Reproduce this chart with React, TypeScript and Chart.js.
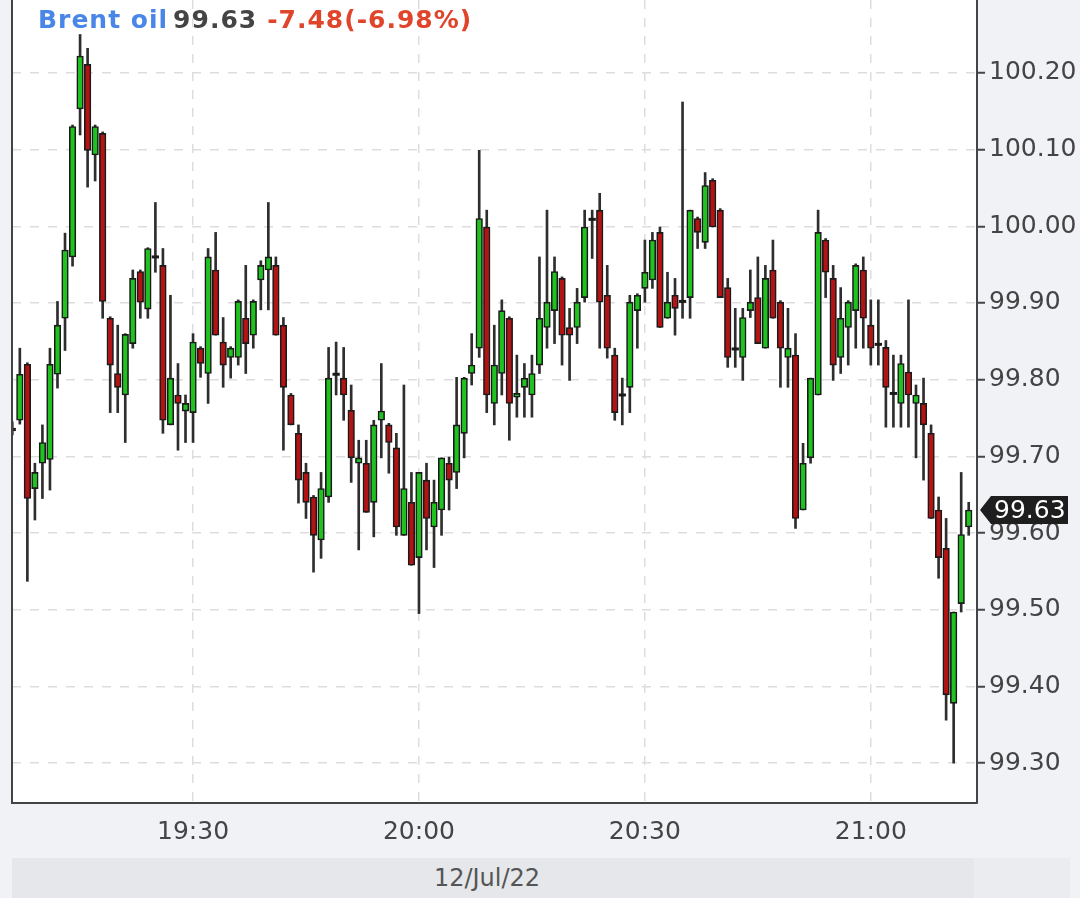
import React, { useEffect, useRef } from 'react';
import { Chart, registerables } from 'chart.js';

Chart.register(...registerables);

// ---- texts ----
const instrument = 'Brent oil';
const lastPriceText = '99.63';
const changeText = '-7.48(-6.98%)';
const dateLabel = '12/Jul/22';

// ---- categories / ticks ----
const firstCandleTime = '19:06'; // one candle per minute
const xTickLabels = ['19:30', '20:00', '20:30', '21:00'];
const yTickValues = [99.3, 99.4, 99.5, 99.6, 99.7, 99.8, 99.9, 100.0, 100.1, 100.2];

// ---- series (1-minute OHLC) ----
const opens = [
  99.737, 99.747, 99.820, 99.658, 99.691, 99.696, 99.807, 99.880, 99.960, 100.153,
  100.211, 100.093, 100.121, 99.880, 99.808, 99.780, 99.847, 99.941, 99.892, 99.960,
  99.949, 99.741, 99.780, 99.759, 99.757, 99.841, 99.808, 99.943, 99.849, 99.829,
  99.829, 99.880, 99.858, 99.930, 99.943, 99.949, 99.871, 99.780, 99.730, 99.679,
  99.647, 99.591, 99.647, 99.807, 99.802, 99.760, 99.691, 99.691, 99.640, 99.747,
  99.741, 99.711, 99.597, 99.640, 99.568, 99.669, 99.608, 99.630, 99.691, 99.679,
  99.730, 99.808, 99.841, 99.999, 99.769, 99.808, 99.880, 99.777, 99.790, 99.780,
  99.819, 99.868, 99.890, 99.932, 99.868, 99.868, 99.907, 100.009, 100.021, 99.910,
  99.832, 99.780, 99.790, 99.890, 99.919, 99.930, 99.992, 99.880, 99.910, 99.902,
  99.907, 100.010, 99.979, 100.060, 100.021, 99.920, 99.840, 99.829, 99.890, 99.907,
  99.841, 99.943, 99.901, 99.829, 99.832, 99.630, 99.698, 99.780, 99.982, 99.932,
  99.829, 99.868, 99.890, 99.943, 99.871, 99.846, 99.842, 99.782, 99.769, 99.810,
  99.769, 99.769, 99.730, 99.630, 99.580, 99.378, 99.508, 99.608,
];
const highs = [
  99.745, 99.841, 99.822, 99.691, 99.741, 99.841, 99.902, 99.991, 100.132, 100.250,
  100.232, 100.132, 100.123, 99.882, 99.871, 99.860, 99.943, 99.943, 99.972, 100.031,
  99.971, 99.910, 99.821, 99.780, 99.860, 99.843, 99.971, 99.992, 99.881, 99.843,
  99.904, 99.949, 99.904, 99.955, 100.031, 99.960, 99.881, 99.782, 99.741, 99.691,
  99.649, 99.679, 99.842, 99.849, 99.842, 99.793, 99.721, 99.721, 99.747, 99.821,
  99.743, 99.730, 99.793, 99.679, 99.679, 99.691, 99.669, 99.698, 99.699, 99.803,
  99.803, 99.860, 100.099, 100.021, 99.871, 99.904, 99.882, 99.832, 99.821, 99.832,
  99.960, 100.021, 99.960, 99.934, 99.893, 99.919, 100.021, 100.021, 100.043, 99.949,
  99.841, 99.802, 99.910, 99.912, 99.982, 99.992, 99.999, 99.940, 99.932, 100.162,
  100.021, 100.012, 100.070, 100.062, 100.023, 99.932, 99.893, 99.893, 99.943, 99.960,
  99.949, 99.982, 99.903, 99.893, 99.860, 99.717, 99.802, 100.021, 99.984, 99.949,
  99.920, 99.903, 99.951, 99.960, 99.904, 99.904, 99.851, 99.832, 99.832, 99.904,
  99.793, 99.802, 99.741, 99.647, 99.619, 99.497, 99.679, 99.640,
];
const lows = [
  99.728, 99.742, 99.537, 99.617, 99.645, 99.656, 99.789, 99.838, 99.948, 100.119,
  100.051, 100.059, 99.880, 99.757, 99.757, 99.718, 99.841, 99.880, 99.880, 99.940,
  99.730, 99.741, 99.708, 99.718, 99.718, 99.803, 99.769, 99.858, 99.790, 99.802,
  99.819, 99.808, 99.841, 99.891, 99.891, 99.858, 99.708, 99.741, 99.639, 99.619,
  99.549, 99.567, 99.640, 99.780, 99.747, 99.666, 99.578, 99.627, 99.595, 99.698,
  99.678, 99.597, 99.597, 99.558, 99.495, 99.578, 99.555, 99.597, 99.630, 99.658,
  99.698, 99.793, 99.829, 99.757, 99.741, 99.780, 99.721, 99.751, 99.751, 99.751,
  99.808, 99.841, 99.847, 99.819, 99.799, 99.847, 99.901, 99.958, 99.841, 99.828,
  99.747, 99.741, 99.757, 99.841, 99.901, 99.919, 99.868, 99.880, 99.858, 99.880,
  99.880, 99.971, 99.971, 99.999, 99.907, 99.816, 99.816, 99.799, 99.881, 99.847,
  99.841, 99.880, 99.790, 99.790, 99.606, 99.630, 99.691, 99.780, 99.907, 99.799,
  99.808, 99.819, 99.841, 99.841, 99.819, 99.819, 99.738, 99.738, 99.738, 99.738,
  99.698, 99.669, 99.619, 99.541, 99.356, 99.300, 99.497, 99.597,
];
const closes = [
  99.733, 99.807, 99.645, 99.679, 99.718, 99.820, 99.871, 99.969, 100.130, 100.222,
  100.099, 100.130, 99.902, 99.819, 99.790, 99.859, 99.932, 99.901, 99.971, 99.958,
  99.747, 99.802, 99.769, 99.769, 99.849, 99.821, 99.960, 99.858, 99.819, 99.841,
  99.902, 99.847, 99.902, 99.949, 99.960, 99.858, 99.790, 99.741, 99.669, 99.640,
  99.597, 99.658, 99.802, 99.807, 99.780, 99.698, 99.698, 99.627, 99.741, 99.759,
  99.718, 99.608, 99.658, 99.558, 99.679, 99.619, 99.640, 99.698, 99.669, 99.741,
  99.802, 99.819, 100.010, 99.780, 99.819, 99.890, 99.769, 99.782, 99.802, 99.808,
  99.880, 99.901, 99.941, 99.858, 99.858, 99.901, 99.999, 100.009, 99.901, 99.841,
  99.757, 99.780, 99.901, 99.910, 99.940, 99.982, 99.868, 99.901, 99.893, 99.902,
  100.021, 99.992, 100.053, 99.999, 99.907, 99.829, 99.840, 99.881, 99.901, 99.847,
  99.932, 99.880, 99.841, 99.841, 99.619, 99.691, 99.802, 99.992, 99.940, 99.819,
  99.880, 99.901, 99.949, 99.880, 99.841, 99.846, 99.790, 99.782, 99.821, 99.780,
  99.780, 99.741, 99.619, 99.568, 99.389, 99.497, 99.598, 99.630,
];

// ---- styles ----
const GREEN = '#1fc21f';
const RED = '#b31313';
const DARK = '#1a1a1a';
const FONT = "'DejaVu Sans', sans-serif";

const toMinutes = (s: string) => {
  const [h, m] = s.split(':').map(Number);
  return h * 60 + m;
};
const fmtTime = (v: number) => {
  const h = Math.floor(v / 60);
  const m = Math.round(v - h * 60);
  return `${h}:${m < 10 ? '0' : ''}${m}`;
};

export default function App() {
  const ref = useRef<HTMLCanvasElement | null>(null);

  useEffect(() => {
    if (!ref.current) return;
    const start = toMinutes(firstCandleTime);
    const isDoji = (i: number) => Math.abs(closes[i] - opens[i]) < 0.002;

    const bodies = opens.map((o, i) => ({
      x: start + i,
      y: isDoji(i) ? [o - 0.0015, o + 0.0015] : [o, closes[i]],
    }));
    const bodyColors = opens.map((o, i) => (isDoji(i) ? DARK : closes[i] > o ? GREEN : RED));
    const bodyBorders = opens.map((_, i) => (isDoji(i) ? 0 : 1.6));
    const wicks = lows.map((l, i) => ({ x: start + i, y: [l, highs[i]] }));

    const framePlugin = {
      id: 'frame',
      beforeDraw(chart: any) {
        const { ctx, chartArea: a } = chart;
        ctx.save();
        ctx.fillStyle = '#ffffff';
        ctx.fillRect(a.left, a.top, a.right - a.left, a.bottom - a.top);
        ctx.restore();
      },
      afterDraw(chart: any) {
        const { ctx, chartArea: a } = chart;
        ctx.save();
        ctx.strokeStyle = '#444';
        ctx.lineWidth = 2;
        ctx.beginPath();
        ctx.moveTo(a.left, a.top);
        ctx.lineTo(a.left, a.bottom);
        ctx.stroke();
        // last price tag
        const last = closes[closes.length - 1];
        const y = chart.scales.y.getPixelForValue(last);
        const x0 = a.right + 3;
        ctx.fillStyle = '#1e1e1e';
        ctx.beginPath();
        ctx.moveTo(x0, y);
        ctx.lineTo(x0 + 11, y - 14);
        ctx.lineTo(x0 + 88, y - 14);
        ctx.lineTo(x0 + 88, y + 14);
        ctx.lineTo(x0 + 11, y + 14);
        ctx.closePath();
        ctx.fill();
        ctx.fillStyle = '#ffffff';
        ctx.font = `25px ${FONT}`;
        ctx.textBaseline = 'middle';
        ctx.textAlign = 'left';
        ctx.fillText(last.toFixed(2), x0 + 14, y + 1);
        ctx.restore();
      },
    };

    const chart = new Chart(ref.current, {
      type: 'bar',
      data: {
        datasets: [
          {
            label: 'body',
            data: bodies as any,
            backgroundColor: bodyColors,
            borderColor: DARK,
            borderWidth: bodyBorders,
            borderSkipped: false,
            barThickness: 6.6,
            grouped: false,
          } as any,
          {
            label: 'wick',
            data: wicks as any,
            backgroundColor: '#2e2e2e',
            borderWidth: 0,
            barThickness: 2,
            grouped: false,
          } as any,
        ],
      },
      options: {
        animation: false,
        responsive: false,
        devicePixelRatio: 1,
        events: [],
        layout: { padding: { left: 12, top: 0, right: 0, bottom: 0 } },
        plugins: { legend: { display: false }, tooltip: { enabled: false } },
        scales: {
          x: {
            type: 'linear',
            position: 'bottom',
            offset: false,
            min: start - 0.04,
            max: start + opens.length + 0.1,
            afterBuildTicks: (s: any) => {
              s.ticks = xTickLabels.map((l) => ({ value: toMinutes(l) }));
            },
            afterFit: (s: any) => {
              s.height = 95;
              s.paddingLeft = 0;
              s.paddingRight = 0;
            },
            ticks: {
              callback: (v: any) => fmtTime(Number(v)),
              font: { family: FONT, size: 25 },
              color: '#444',
              padding: 6,
              maxRotation: 0,
              autoSkip: false,
            },
            grid: {
              offset: false,
              color: '#dddddd',
              lineWidth: 1.5,
              drawTicks: true,
              tickLength: 8,
              tickColor: 'rgba(0,0,0,0)',
            },
            border: { display: true, color: '#444', width: 2, dash: [9, 9] },
          } as any,
          y: {
            type: 'linear',
            position: 'right',
            min: 99.248,
            max: 100.295,
            afterBuildTicks: (s: any) => {
              s.ticks = yTickValues.map((v) => ({ value: v }));
            },
            afterFit: (s: any) => {
              s.width = 103;
              s.paddingTop = 0;
              s.paddingBottom = 0;
            },
            ticks: {
              callback: (v: any) => Number(v).toFixed(2),
              font: { family: FONT, size: 25 },
              color: '#444',
              padding: 4,
              autoSkip: false,
            },
            grid: {
              color: '#dddddd',
              lineWidth: 1.5,
              drawTicks: true,
              tickLength: 8,
              tickColor: '#444',
              tickWidth: 2,
              tickBorderDash: [],
            },
            border: { display: true, color: '#444', width: 2, dash: [9, 9] },
          } as any,
        },
      },
      plugins: [framePlugin],
    });
    return () => chart.destroy();
  }, []);

  return (
    <div
      style={{
        position: 'absolute',
        left: 0,
        top: 0,
        width: 1080,
        height: 898,
        background: '#f0f2f5',
        overflow: 'hidden',
      }}
    >
      <canvas ref={ref} width={1080} height={898} style={{ position: 'absolute', left: 0, top: 0 }} />
      <div
        style={{
          position: 'absolute',
          left: 38,
          top: 5,
          fontFamily: FONT,
          fontWeight: 'bold',
          fontSize: 25,
          lineHeight: '29px',
          letterSpacing: '1px',
          whiteSpace: 'nowrap',
          pointerEvents: 'none',
        }}
      >
        <span style={{ color: '#4a86e8' }}>{instrument}</span>
        <span style={{ color: '#444', marginLeft: 5 }}>{lastPriceText}</span>
        <span style={{ color: '#e0452b', marginLeft: 10 }}>{changeText}</span>
      </div>
      <div
        style={{
          position: 'absolute',
          left: 12,
          top: 858,
          width: 962,
          height: 40,
          background: '#e5e7ea',
          fontFamily: FONT,
          fontSize: 24,
          lineHeight: '40px',
          color: '#555',
          textAlign: 'center',
          paddingRight: 12,
          boxSizing: 'border-box',
        }}
      >
        {dateLabel}
      </div>
      <div
        style={{
          position: 'absolute',
          left: 974,
          top: 858,
          width: 96,
          height: 40,
          background: '#eaecef',
        }}
      />
    </div>
  );
}
